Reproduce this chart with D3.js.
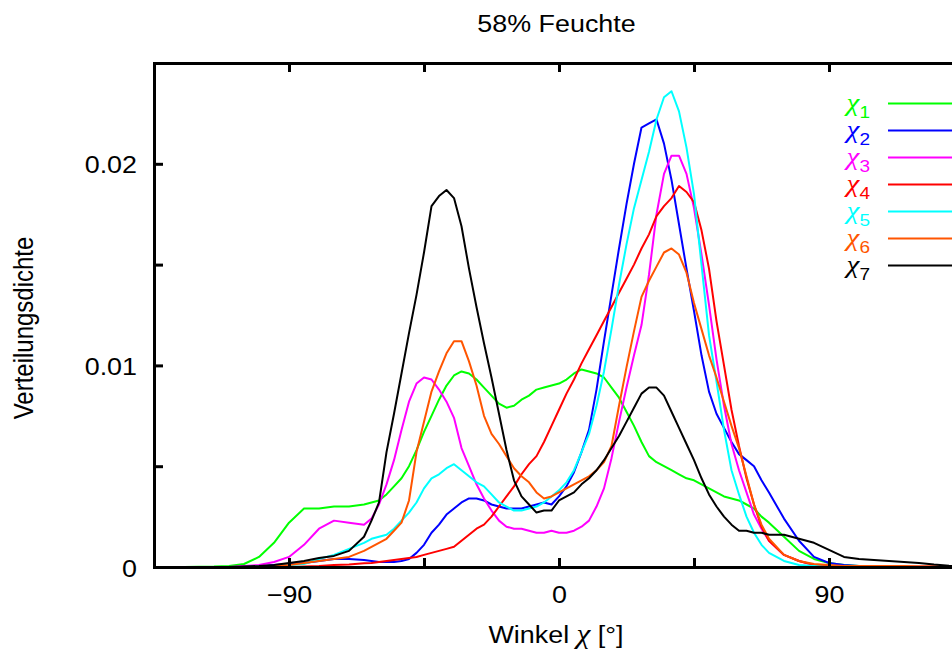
<!DOCTYPE html>
<html>
<head>
<meta charset="utf-8">
<script src="https://cdn.jsdelivr.net/npm/d3@7"></script>
<style>
  body { margin: 0; background: #fff; }
  svg { display: block; font-family: "Liberation Sans", Arial, sans-serif; }
  .chi { font-family: "Liberation Serif", serif; font-style: italic; }
</style>
</head>
<body>
<div id="chart"></div>
<script>
// Winkel (Grad)
const angles = [-135,-125,-115,-110,-105,-100,-95,-90,-85,-80,-75,-70,-65,
  -62.5,-60,-57.5,-55,-52.5,-50,-47.5,-45,-42.5,-40,-37.5,-35,-32.5,-30,-27.5,-25,-22.5,-20,-17.5,-15,-12.5,-10,-7.5,-5,-2.5,
  0,2.5,5,7.5,10,12.5,15,17.5,20,22.5,25,27.5,30,32.5,35,37.5,40,42.5,45,47.5,50,52.5,55,57.5,60,62.5,65,67.5,70,
  75,80,85,90,95,100,105,110,115,120,125,130,135];

const chi1 = [0,0,0.00002,0.00005,0.00015,0.0005,0.0012,0.0022,0.0029,0.0029,0.0030,0.0030,0.0031,
  0.0032,0.0033,0.0036,0.0040,0.0044,0.0050,0.0058,0.0067,0.0075,0.0083,0.0090,0.0095,0.0097,0.0096,0.0093,0.0089,0.0085,0.0081,0.0079,0.0080,0.0083,0.0085,0.0088,0.0089,0.0090,
  0.0091,0.0093,0.0096,0.0098,0.0097,0.0096,0.0094,0.0089,0.0084,0.0077,0.0070,0.0062,0.0055,0.0052,0.0050,0.0048,0.0046,0.0044,0.0043,0.0041,0.0039,0.0037,0.0035,0.0034,0.0033,0.0031,0.0029,0.0025,0.0022,
  0.0015,0.0008,0.0004,0.0002,0.0001,0.00005,0.00002,0,0,0,0,0,0];

const chi2 = [0,0,0,0,0,0.00003,0.0001,0.00015,0.0002,0.0003,0.0004,0.0004,0.00035,
  0.0003,0.00025,0.00025,0.00025,0.0003,0.0004,0.0007,0.0011,0.0017,0.0021,0.0026,0.0029,0.0032,0.0034,0.0034,0.0033,0.0031,0.0030,0.0029,0.0029,0.0029,0.0030,0.0031,0.0032,0.0031,
  0.0035,0.0040,0.0047,0.0057,0.0068,0.0088,0.0112,0.0135,0.0158,0.0180,0.0200,0.0218,0.0220,0.0222,0.0210,0.0192,0.0170,0.0148,0.0127,0.0105,0.0087,0.0076,0.0069,0.0062,0.0056,0.0053,0.0050,0.0043,0.0037,
  0.0024,0.0013,0.0005,0.0002,0.0001,0.00005,0,0,0,0,0,0,0];

const chi3 = [0,0,0,0,0.00005,0.0001,0.00025,0.0005,0.0011,0.0019,0.0023,0.0022,0.0021,
  0.0024,0.0031,0.0041,0.0053,0.0068,0.0082,0.0091,0.0094,0.0093,0.0088,0.0082,0.0074,0.0059,0.0050,0.0041,0.0034,0.0028,0.0023,0.0020,0.0019,0.0019,0.0018,0.0017,0.0017,0.0018,
  0.0017,0.0017,0.0018,0.0020,0.0023,0.0030,0.0039,0.0054,0.0072,0.0089,0.0105,0.0120,0.0145,0.0175,0.0195,0.0204,0.0204,0.0195,0.0178,0.0155,0.0130,0.0103,0.0080,0.0061,0.0048,0.0037,0.0026,0.0019,0.0013,
  0.0006,0.0003,0.0001,0.00005,0,0,0,0,0,0,0,0,0];

const chi4 = [0,0,0,0,0,0,0,0,0.00003,0.00005,0.0001,0.00012,0.00018,
  0.0002,0.00025,0.0003,0.00035,0.0004,0.00045,0.0005,0.0006,0.0007,0.0008,0.0009,0.0010,0.0013,0.0016,0.0019,0.0021,0.0025,0.0030,0.0035,0.0040,0.0046,0.0051,0.0055,0.0062,0.0070,
  0.0078,0.0086,0.0093,0.0101,0.0108,0.0115,0.0122,0.0129,0.0136,0.0143,0.0150,0.0158,0.0165,0.0174,0.0179,0.0183,0.0189,0.0186,0.0181,0.0167,0.0148,0.0122,0.0100,0.0078,0.0060,0.0044,0.0031,0.0020,0.0013,
  0.0006,0.0003,0.0001,0.00005,0.00003,0.00003,0.00003,0.00003,0.00003,0.00002,0.00002,0.00001,0];

const chi5 = [0,0,0,0,0,0.00003,0.00005,0.0001,0.00015,0.0004,0.0006,0.0009,0.0012,
  0.0014,0.0015,0.0016,0.0019,0.0023,0.0027,0.0032,0.0039,0.0044,0.0046,0.0049,0.0051,0.0048,0.0045,0.0042,0.0040,0.0036,0.0032,0.0030,0.0028,0.0028,0.0029,0.0030,0.0032,0.0035,
  0.0038,0.0042,0.0048,0.0057,0.0066,0.0080,0.0097,0.0118,0.0140,0.0160,0.0178,0.0192,0.0206,0.0222,0.0233,0.0236,0.0226,0.0208,0.0185,0.0150,0.0115,0.0092,0.0068,0.0048,0.0036,0.0025,0.0017,0.0011,0.0007,
  0.0003,0.0001,0.00005,0,0,0,0,0,0,0,0,0,0];

const chi6 = [0,0,0,0,0,0,0.00005,0.0001,0.0002,0.0003,0.0004,0.0005,0.0008,
  0.0010,0.0012,0.0014,0.0018,0.0022,0.0033,0.0057,0.0072,0.0087,0.0097,0.0106,0.0112,0.0112,0.0102,0.0090,0.0075,0.0066,0.0061,0.0055,0.0049,0.0045,0.0042,0.0037,0.0034,0.0035,
  0.0037,0.0039,0.0041,0.0043,0.0045,0.0048,0.0052,0.0060,0.0080,0.0099,0.0117,0.0134,0.0142,0.0149,0.0156,0.0158,0.0155,0.0146,0.0131,0.0118,0.0105,0.0094,0.0082,0.0070,0.0059,0.0045,0.0031,0.0021,0.0014,
  0.0006,0.0003,0.00015,0.0001,0.00005,0.00005,0.00005,0.00005,0.00005,0.00003,0.00003,0.00002,0.00001];

const chi7 = [0,0,0,0,0.00003,0.00005,0.0001,0.0002,0.0003,0.00045,0.00055,0.0008,0.0015,
  0.0023,0.0032,0.0057,0.0076,0.0096,0.0116,0.0135,0.0156,0.0179,0.0184,0.0187,0.0183,0.0169,0.0148,0.0129,0.0111,0.0094,0.0076,0.0058,0.0043,0.0035,0.0031,0.0027,0.0028,0.0028,
  0.0033,0.0035,0.0037,0.0041,0.0044,0.0048,0.0053,0.0059,0.0065,0.0072,0.0079,0.0086,0.0089,0.0089,0.0085,0.0077,0.0069,0.0061,0.0053,0.0044,0.0036,0.0030,0.0025,0.0021,0.0018,0.0018,0.0017,0.0017,0.0016,
  0.0016,0.0014,0.0012,0.00085,0.0005,0.0004,0.00035,0.0003,0.00025,0.0002,0.00012,0.00006,0.00003];

const seriesValues = [chi1, chi2, chi3, chi4, chi5, chi6, chi7];
const seriesIndex = ["1", "2", "3", "4", "5", "6", "7"];
const colors = ["#00ff00", "#0000ff", "#ff00ff", "#ff0000", "#00ffff", "#ff5500", "#000000"];

const xTicks = [-135, -90, -45, 0, 45, 90, 135];
const xLabelValues = [-90, 0, 90];
const xLabelTexts = ["\u221290", "0", "90"];
const yTicks = [0, 0.005, 0.01, 0.015, 0.02, 0.025];
const yLabelValues = [0, 0.01, 0.02];
const yLabelTexts = ["0", "0.01", "0.02"];

const width = 952, height = 649;
const stretch = 1.12; // Schrift im Original leicht breitgezogen
const margin = { left: 154, right: 964, top: 63, bottom: 567 };

const svg = d3.select('#chart').append('svg')
    .attr('width', width)
    .attr('height', height);

const x = d3.scaleLinear().domain([-135, 135]).range([margin.left, margin.right]);
const y = d3.scaleLinear().domain([0, 0.025]).range([margin.bottom, margin.top]);

// --- Kurven ---
const line = d3.line()
    .x((d, i) => x(angles[i]))
    .y(d => y(d));

svg.append('g')
    .selectAll('path')
    .data(seriesValues)
    .join('path')
    .attr('d', d => line(d))
    .attr('fill', 'none')
    .attr('stroke', (d, i) => colors[i])
    .attr('stroke-width', 2)
    .attr('stroke-linejoin', 'round');

// --- Achsen ---
function styleAxis(g) {
    g.select('.domain').attr('stroke', '#000').attr('stroke-width', 3).attr('stroke-linecap', 'square');
    g.selectAll('.tick line').attr('stroke', '#000').attr('stroke-width', 3);
    g.attr('font-family', null).attr('font-size', 24);
}

const xLabel = d => {
    const k = xLabelValues.indexOf(d);
    return k >= 0 ? xLabelTexts[k] : '';
};
const yLabel = d => {
    const k = yLabelValues.indexOf(d);
    return k >= 0 ? yLabelTexts[k] : '';
};

const bottom = svg.append('g')
    .attr('transform', `translate(0,${margin.bottom})`)
    .call(d3.axisBottom(x).tickValues(xTicks).tickSize(-9).tickSizeOuter(0).tickFormat(xLabel))
    .call(styleAxis);
bottom.selectAll('text')
    .attr('y', 36).attr('dy', 0)
    .attr('fill', '#000')
    .attr('transform', `scale(${stretch},1)`);

svg.append('g')
    .attr('transform', `translate(0,${margin.top})`)
    .call(d3.axisTop(x).tickValues(xTicks).tickSize(-9).tickSizeOuter(0).tickFormat(''))
    .call(styleAxis);

const left = svg.append('g')
    .attr('transform', `translate(${margin.left},0)`)
    .call(d3.axisLeft(y).tickValues(yTicks).tickSize(-9).tickSizeOuter(0).tickFormat(yLabel))
    .call(styleAxis);
left.selectAll('text')
    .attr('x', -17 / stretch).attr('dy', 0).attr('y', 9)
    .attr('fill', '#000')
    .attr('transform', `scale(${stretch},1)`);

svg.append('g')
    .attr('transform', `translate(${margin.right},0)`)
    .call(d3.axisRight(y).tickValues(yTicks).tickSize(-9).tickSizeOuter(0).tickFormat(''))
    .call(styleAxis);

// --- Beschriftungen ---
svg.append('text')
    .attr('transform', `translate(556.5,32) scale(${stretch},1)`)
    .attr('text-anchor', 'middle')
    .attr('font-size', 24)
    .text('58% Feuchte');

const xTitle = svg.append('text')
    .attr('transform', `translate(556,643) scale(${stretch},1)`)
    .attr('text-anchor', 'middle')
    .attr('font-size', 24);
xTitle.append('tspan').text('Winkel ');
xTitle.append('tspan').attr('class', 'chi').attr('font-size', 28).text('\u03c7');
xTitle.append('tspan').text(' [\u00b0]');

svg.append('text')
    .attr('transform', `translate(33,328) scale(${stretch},1) rotate(-90)`)
    .attr('text-anchor', 'middle')
    .attr('font-size', 24)
    .text('Verteilungsdichte');

// --- Legende ---
const legend = svg.append('g')
    .selectAll('g')
    .data(seriesIndex)
    .join('g')
    .attr('transform', (d, i) => `translate(0,${103.5 + i * 27})`);

legend.append('line')
    .attr('x1', 888).attr('x2', 960)
    .attr('stroke', (d, i) => colors[i])
    .attr('stroke-width', 2);

const legendText = legend.append('text')
    .attr('transform', `translate(870,7) scale(${stretch},1)`)
    .attr('text-anchor', 'end')
    .attr('font-size', 24)
    .attr('fill', (d, i) => colors[i]);
legendText.append('tspan').attr('class', 'chi').attr('font-size', 26).text('\u03c7');
legendText.append('tspan')
    .attr('font-size', 17)
    .attr('dy', 7)
    .text(d => d);
</script>
</body>
</html>
